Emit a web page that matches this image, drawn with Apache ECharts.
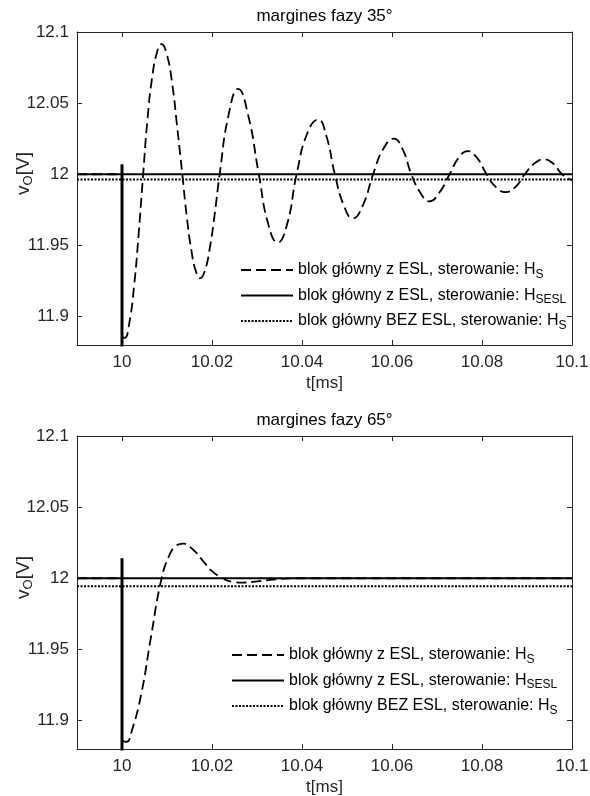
<!DOCTYPE html>
<html>
<head>
<meta charset="utf-8">
<script src="https://cdn.jsdelivr.net/npm/echarts@6/dist/echarts.min.js"></script>
<style>html,body{margin:0;padding:0;background:#fff}#c{width:590px;height:796px}</style>
</head>
<body>
<div id="c"></div>
<script>
// ---- data ----
const titles = ['margines fazy 35°', 'margines fazy 65°'];
const legendMain = ['blok główny z ESL, sterowanie: H', 'blok główny z ESL, sterowanie: H', 'blok główny BEZ ESL, sterowanie: H'];
const legendSub = ['S', 'SESL', 'S'];
const seriesNames = ['blok główny z ESL, sterowanie: HS', 'blok główny z ESL, sterowanie: HSESL', 'blok główny BEZ ESL, sterowanie: HS'];
const xTicks = [10, 10.02, 10.04, 10.06, 10.08, 10.1];
const yTicks = [11.9, 11.95, 12, 12.05, 12.1];

// 35 deg
const dashedPre35 = [[9.99, 12.0], [10.0, 12.0], [10.0, 11.886]];
const dashed35 = [
  [10.0, 11.886], [10.0006, 11.885], [10.0016, 11.895], [10.0027, 11.922], [10.0037, 11.958], [10.0047, 12.0],
  [10.0057, 12.04], [10.0067, 12.068], [10.0078, 12.086], [10.0088, 12.0915], [10.0099, 12.085], [10.0111, 12.065],
  [10.0122, 12.035], [10.0134, 12.0], [10.0144, 11.97], [10.0154, 11.947], [10.0164, 11.932], [10.0174, 11.927],
  [10.0184, 11.932], [10.0195, 11.948], [10.0206, 11.972], [10.0217, 12.0], [10.0237, 12.042], [10.0258, 12.06],
  [10.028, 12.042], [10.0304, 12.0], [10.0325, 11.965], [10.0346, 11.952], [10.0367, 11.965], [10.0388, 12.0],
  [10.0412, 12.029], [10.0436, 12.0385], [10.0454, 12.027], [10.0473, 12.0], [10.0493, 11.978], [10.0513, 11.969],
  [10.0535, 11.978], [10.0558, 12.0], [10.0581, 12.018], [10.0604, 12.025], [10.0623, 12.018], [10.0643, 12.0],
  [10.0663, 11.987], [10.0683, 11.981], [10.0705, 11.987], [10.0728, 12.0], [10.0748, 12.0115], [10.0768, 12.0163],
  [10.0789, 12.0115], [10.081, 12.0], [10.0831, 11.991], [10.0853, 11.9875], [10.0874, 11.991], [10.0895, 12.0],
  [10.0916, 12.0075], [10.0938, 12.0105], [10.0958, 12.0075], [10.0978, 12.0], [10.1, 11.9958]
];
const solid35 = [[9.99, 12.0], [10.1, 12.0]];
const spike35 = [[10.0, 12.0], [10.0, 12.007], [10.0, 11.8]];
const dotted35 = [[9.99, 11.9963], [10.1, 11.9963]];

// 65 deg
const dashedPre65 = [[9.99, 12.0], [10.0, 12.0], [10.0, 11.886]];
const dashed65 = [
  [10.0, 11.886], [10.001, 11.885], [10.0022, 11.893], [10.0043, 11.919], [10.0064, 11.958], [10.0088, 12.0],
  [10.0105, 12.016], [10.012, 12.0228], [10.0136, 12.0244], [10.0155, 12.021], [10.0178, 12.013], [10.02, 12.005],
  [10.0224, 12.0], [10.0245, 11.9975], [10.0269, 11.997], [10.03, 11.9978], [10.034, 11.9992], [10.038, 12.0], [10.1, 12.0]
];
const solid65 = [[9.99, 12.0], [10.1, 12.0]];
const spike65 = [[10.0, 12.0], [10.0, 12.014], [10.0, 11.8]];
const dotted65 = [[9.99, 11.9944], [10.1, 11.9944]];

// ---- chart ----
const FONT = 'Liberation Sans, Arial, Helvetica, sans-serif';
const AX = '#262626';
const grids = [
  {left: 77, right: 18, top: 32, height: 313, outerBoundsMode: 'none', containLabel: false},
  {left: 77, right: 18, top: 436, height: 313, outerBoundsMode: 'none', containLabel: false}
];
function xAx(g, pos) {
  const bottom = pos === 'bottom';
  return {
    type: 'value', gridIndex: g, position: pos, min: 9.99, max: 10.1,
    axisLine: {show: true, lineStyle: {color: AX, width: 1}},
    axisTick: {show: true, inside: true, length: 5, customValues: xTicks, lineStyle: {color: AX}},
    axisLabel: {show: bottom, customValues: xTicks, color: AX, fontFamily: FONT, fontSize: 17, margin: 9, hideOverlap: false},
    splitLine: {show: false},
    name: bottom ? 't[ms]' : '', nameLocation: 'middle', nameGap: 30, nameMoveOverlap: false,
    nameTextStyle: {color: AX, fontFamily: FONT, fontSize: 17}
  };
}
function yAx(g, pos) {
  const left = pos === 'left';
  return {
    type: 'value', gridIndex: g, position: pos, min: 11.88, max: 12.1,
    axisLine: {show: true, lineStyle: {color: AX, width: 1}},
    axisTick: {show: true, inside: true, length: 5, customValues: yTicks, lineStyle: {color: AX}},
    axisLabel: {show: left, customValues: yTicks, color: AX, fontFamily: FONT, fontSize: 17, margin: 8},
    splitLine: {show: false},
    name: left ? '{a|v}{s|O}{a|[V]}' : '', nameLocation: 'middle', nameGap: 42, nameRotate: 90, nameMoveOverlap: false,
    nameTextStyle: {color: AX, fontFamily: FONT, padding: [0, 0, 0, 30],
      rich: {a: {fontSize: 19, color: AX, fontFamily: FONT}, s: {fontSize: 13, color: AX, fontFamily: FONT, padding: [9, 0, 0, 0]}}}
  };
}
function line(name, data, xi, yi, type, width, smooth) {
  return {
    name: name, type: 'line', data: data, xAxisIndex: xi, yAxisIndex: yi,
    symbol: 'none', smooth: smooth ? 0.5 : false,
    lineStyle: {color: '#000', width: width, type: type}, itemStyle: {color: '#000'},
    clip: true, animation: false, z: 2
  };
}
const DASH = [10, 5], DOT = [2, 1.5];
function legendFor(left, top) {
  return {
    data: seriesNames, orient: 'vertical', left: left, top: top, itemWidth: 52, itemHeight: 14, itemGap: 7,
    padding: 0,
    itemStyle: {opacity: 0},
    formatter: function (n) {
      const i = seriesNames.indexOf(n);
      return '{m|' + legendMain[i] + '}{s|' + legendSub[i] + '}';
    },
    textStyle: {color: '#000', fontFamily: FONT, fontSize: 16,
      rich: {m: {fontSize: 16, fontFamily: FONT, color: '#000'}, s: {fontSize: 12, fontFamily: FONT, color: '#000', padding: [9, 0, 0, 0]}}},
    selectedMode: false
  };
}
const option = {
  backgroundColor: '#fff',
  animation: false,
  title: [
    {text: titles[0], left: 324.5, textAlign: 'center', top: 8, padding: 0, textStyle: {color: '#000', fontFamily: FONT, fontSize: 17, fontWeight: 'normal'}},
    {text: titles[1], left: 324.5, textAlign: 'center', top: 412, padding: 0, textStyle: {color: '#000', fontFamily: FONT, fontSize: 17, fontWeight: 'normal'}}
  ],
  grid: grids,
  xAxis: [xAx(0, 'bottom'), xAx(0, 'top'), xAx(1, 'bottom'), xAx(1, 'top')],
  yAxis: [yAx(0, 'left'), yAx(0, 'right'), yAx(1, 'left'), yAx(1, 'right')],
  legend: [legendFor(240, 262), legendFor(231, 647)],
  series: [
    line(seriesNames[0], dashed35, 0, 0, DASH, 1.8, true),
    line(seriesNames[1], solid35, 0, 0, 'solid', 1.8, false),
    line(seriesNames[2], dotted35, 0, 0, DOT, 2, false),
    line('spikeA', dashedPre35, 0, 0, DASH, 1.8, false),
    line('spikeB', spike35, 0, 0, 'solid', 3, false),
    line(seriesNames[0], dashed65, 2, 2, DASH, 1.8, true),
    line(seriesNames[1], solid65, 2, 2, 'solid', 1.8, false),
    line(seriesNames[2], dotted65, 2, 2, DOT, 2, false),
    line('spikeC', dashedPre65, 2, 2, DASH, 1.8, false),
    line('spikeD', spike65, 2, 2, 'solid', 3, false)
  ]
};
const chart = echarts.init(document.getElementById('c'), null, {renderer: 'canvas'});
chart.setOption(option);
</script>
</body>
</html>
